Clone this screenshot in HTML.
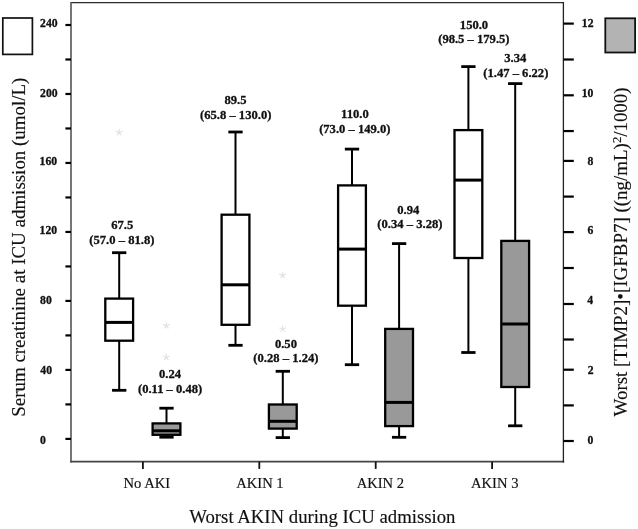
<!DOCTYPE html>
<html><head><meta charset="utf-8"><style>
html,body{margin:0;padding:0;background:#fff;width:638px;height:529px;overflow:hidden;font-family:"Liberation Serif",serif;}
svg{display:block;will-change:transform}
</style></head><body>
<svg width="638" height="529" viewBox="0 0 638 529">
<rect width="100%" height="100%" fill="#fff"/>
<path d="M71 2.6 H563.5" stroke="#2a2a2a" stroke-width="1.3" fill="none"/>
<path d="M71 1.9 V462.5" stroke="#555" stroke-width="1.6" fill="none"/>
<path d="M70.3 461.7 H564.2" stroke="#444" stroke-width="1.7" fill="none"/>
<path d="M563.4 1.9 V462.5" stroke="#222" stroke-width="1.3" fill="none"/>
<line x1="65.4" y1="438.90" x2="71" y2="438.90" stroke="#000" stroke-width="2.2"/>
<line x1="65.4" y1="404.41" x2="71" y2="404.41" stroke="#000" stroke-width="2.2"/>
<line x1="65.4" y1="369.92" x2="71" y2="369.92" stroke="#000" stroke-width="2.2"/>
<line x1="65.4" y1="335.42" x2="71" y2="335.42" stroke="#000" stroke-width="2.2"/>
<line x1="65.4" y1="300.93" x2="71" y2="300.93" stroke="#000" stroke-width="2.2"/>
<line x1="65.4" y1="266.44" x2="71" y2="266.44" stroke="#000" stroke-width="2.2"/>
<line x1="65.4" y1="231.95" x2="71" y2="231.95" stroke="#000" stroke-width="2.2"/>
<line x1="65.4" y1="197.46" x2="71" y2="197.46" stroke="#000" stroke-width="2.2"/>
<line x1="65.4" y1="162.96" x2="71" y2="162.96" stroke="#000" stroke-width="2.2"/>
<line x1="65.4" y1="128.47" x2="71" y2="128.47" stroke="#000" stroke-width="2.2"/>
<line x1="65.4" y1="93.98" x2="71" y2="93.98" stroke="#000" stroke-width="2.2"/>
<line x1="65.4" y1="59.49" x2="71" y2="59.49" stroke="#000" stroke-width="2.2"/>
<line x1="65.4" y1="25.00" x2="71" y2="25.00" stroke="#000" stroke-width="2.2"/>
<text x="40.07" y="27.30" font-family='"Liberation Serif", serif' font-weight="bold" font-size="11.7" fill="#111" stroke="#111" stroke-width="0.3">240</text>
<text x="40.07" y="96.60" font-family='"Liberation Serif", serif' font-weight="bold" font-size="11.7" fill="#111" stroke="#111" stroke-width="0.3">200</text>
<text x="39.57" y="164.70" font-family='"Liberation Serif", serif' font-weight="bold" font-size="11.7" fill="#111" stroke="#111" stroke-width="0.3">160</text>
<text x="39.57" y="234.40" font-family='"Liberation Serif", serif' font-weight="bold" font-size="11.7" fill="#111" stroke="#111" stroke-width="0.3">120</text>
<text x="40.07" y="303.70" font-family='"Liberation Serif", serif' font-weight="bold" font-size="11.7" fill="#111" stroke="#111" stroke-width="0.3">80</text>
<text x="40.32" y="374.30" font-family='"Liberation Serif", serif' font-weight="bold" font-size="11.7" fill="#111" stroke="#111" stroke-width="0.3">40</text>
<text x="40.07" y="443.70" font-family='"Liberation Serif", serif' font-weight="bold" font-size="11.7" fill="#111" stroke="#111" stroke-width="0.3">0</text>
<line x1="563.5" y1="23.60" x2="573.8" y2="23.60" stroke="#000" stroke-width="2.2"/>
<line x1="563.5" y1="59.50" x2="573.8" y2="59.50" stroke="#000" stroke-width="2.2"/>
<line x1="563.5" y1="95.30" x2="573.8" y2="95.30" stroke="#000" stroke-width="2.2"/>
<line x1="563.5" y1="131.05" x2="573.8" y2="131.05" stroke="#000" stroke-width="2.2"/>
<line x1="563.5" y1="160.90" x2="573.8" y2="160.90" stroke="#000" stroke-width="2.2"/>
<line x1="563.5" y1="196.60" x2="573.8" y2="196.60" stroke="#000" stroke-width="2.2"/>
<line x1="563.5" y1="232.10" x2="573.8" y2="232.10" stroke="#000" stroke-width="2.2"/>
<line x1="563.5" y1="268.00" x2="573.8" y2="268.00" stroke="#000" stroke-width="2.2"/>
<line x1="563.5" y1="304.00" x2="573.8" y2="304.00" stroke="#000" stroke-width="2.2"/>
<line x1="563.5" y1="339.50" x2="573.8" y2="339.50" stroke="#000" stroke-width="2.2"/>
<line x1="563.5" y1="369.70" x2="573.8" y2="369.70" stroke="#000" stroke-width="2.2"/>
<line x1="563.5" y1="405.40" x2="573.8" y2="405.40" stroke="#000" stroke-width="2.2"/>
<line x1="563.5" y1="441.00" x2="573.8" y2="441.00" stroke="#000" stroke-width="2.2"/>
<text x="581.82" y="27.40" font-family='"Liberation Serif", serif' font-weight="bold" font-size="11.7" fill="#111" stroke="#111" stroke-width="0.3">12</text>
<text x="581.70" y="96.70" font-family='"Liberation Serif", serif' font-weight="bold" font-size="11.7" fill="#111" stroke="#111" stroke-width="0.3">10</text>
<text x="587.57" y="164.90" font-family='"Liberation Serif", serif' font-weight="bold" font-size="11.7" fill="#111" stroke="#111" stroke-width="0.3">8</text>
<text x="587.45" y="234.20" font-family='"Liberation Serif", serif' font-weight="bold" font-size="11.7" fill="#111" stroke="#111" stroke-width="0.3">6</text>
<text x="587.32" y="303.90" font-family='"Liberation Serif", serif' font-weight="bold" font-size="11.7" fill="#111" stroke="#111" stroke-width="0.3">4</text>
<text x="587.70" y="374.30" font-family='"Liberation Serif", serif' font-weight="bold" font-size="11.7" fill="#111" stroke="#111" stroke-width="0.3">2</text>
<text x="587.57" y="443.80" font-family='"Liberation Serif", serif' font-weight="bold" font-size="11.7" fill="#111" stroke="#111" stroke-width="0.3">0</text>
<line x1="142.90" y1="461.7" x2="142.90" y2="468.9" stroke="#111" stroke-width="1.8"/>
<line x1="259.30" y1="461.7" x2="259.30" y2="468.9" stroke="#111" stroke-width="1.8"/>
<line x1="375.70" y1="461.7" x2="375.70" y2="468.9" stroke="#111" stroke-width="1.8"/>
<line x1="492.10" y1="461.7" x2="492.10" y2="468.9" stroke="#111" stroke-width="1.8"/>
<text x="123.57" y="487.95" font-family='"Liberation Serif", serif' font-weight="normal" font-size="14.6" fill="#111" stroke="#111" stroke-width="0.15">No AKI</text>
<text x="236.22" y="487.95" font-family='"Liberation Serif", serif' font-weight="normal" font-size="14.6" fill="#111" stroke="#111" stroke-width="0.15">AKIN 1</text>
<text x="356.65" y="487.95" font-family='"Liberation Serif", serif' font-weight="normal" font-size="14.6" fill="#111" stroke="#111" stroke-width="0.15">AKIN 2</text>
<text x="471.03" y="487.95" font-family='"Liberation Serif", serif' font-weight="normal" font-size="14.6" fill="#111" stroke="#111" stroke-width="0.15">AKIN 3</text>
<text x="189.30" y="523.10" font-family='"Liberation Serif", serif' font-weight="normal" font-size="18.75" fill="#111" stroke="#111" stroke-width="0.15">Worst AKIN during ICU admission</text>
<text x="0" y="0" transform="translate(25.1,416.80) rotate(-90)" font-family='"Liberation Serif", serif' font-size="18.95" fill="#111" stroke="#111" stroke-width="0.15">Serum creatinine at ICU admission (umol/L)</text>
<text x="0" y="0" transform="translate(626.5,416.45) rotate(-90)" font-family='"Liberation Serif", serif' font-size="18.95" fill="#111" stroke="#111" stroke-width="0.15">Worst [TIMP2]•[IGFBP7] ((ng/mL)<tspan dy="-5.2" font-size="12.5">2</tspan><tspan dy="5.2">/1000)</tspan></text>
<rect x="2.8" y="18" width="29.6" height="36.4" fill="#fff" stroke="#111" stroke-width="1.7"/>
<rect x="605.3" y="18.3" width="29.8" height="34.2" fill="#b3b3b3" stroke="#111" stroke-width="1.8"/>
<line x1="119.2" y1="252.7" x2="119.2" y2="298.6" stroke="#000" stroke-width="2"/>
<line x1="119.2" y1="340.7" x2="119.2" y2="390.3" stroke="#000" stroke-width="2"/>
<line x1="112.05" y1="252.7" x2="126.35" y2="252.7" stroke="#000" stroke-width="2.8"/>
<line x1="112.05" y1="390.3" x2="126.35" y2="390.3" stroke="#000" stroke-width="2.8"/>
<rect x="105.30" y="298.6" width="27.8" height="42.10" fill="#fff" stroke="#000" stroke-width="2.3"/>
<line x1="105.30" y1="322.4" x2="133.10" y2="322.4" stroke="#000" stroke-width="3"/>
<line x1="235.5" y1="132.0" x2="235.5" y2="214.7" stroke="#000" stroke-width="2"/>
<line x1="235.5" y1="324.8" x2="235.5" y2="345.3" stroke="#000" stroke-width="2"/>
<line x1="228.35" y1="132.0" x2="242.65" y2="132.0" stroke="#000" stroke-width="2.8"/>
<line x1="228.35" y1="345.3" x2="242.65" y2="345.3" stroke="#000" stroke-width="2.8"/>
<rect x="221.60" y="214.7" width="27.8" height="110.10" fill="#fff" stroke="#000" stroke-width="2.3"/>
<line x1="221.60" y1="284.8" x2="249.40" y2="284.8" stroke="#000" stroke-width="3"/>
<line x1="352.0" y1="149.1" x2="352.0" y2="185.4" stroke="#000" stroke-width="2"/>
<line x1="352.0" y1="305.7" x2="352.0" y2="364.7" stroke="#000" stroke-width="2"/>
<line x1="344.85" y1="149.1" x2="359.15" y2="149.1" stroke="#000" stroke-width="2.8"/>
<line x1="344.85" y1="364.7" x2="359.15" y2="364.7" stroke="#000" stroke-width="2.8"/>
<rect x="338.10" y="185.4" width="27.8" height="120.30" fill="#fff" stroke="#000" stroke-width="2.3"/>
<line x1="338.10" y1="249.1" x2="365.90" y2="249.1" stroke="#000" stroke-width="3"/>
<line x1="468.4" y1="66.6" x2="468.4" y2="130.1" stroke="#000" stroke-width="2"/>
<line x1="468.4" y1="258.0" x2="468.4" y2="352.5" stroke="#000" stroke-width="2"/>
<line x1="461.25" y1="66.6" x2="475.55" y2="66.6" stroke="#000" stroke-width="2.8"/>
<line x1="461.25" y1="352.5" x2="475.55" y2="352.5" stroke="#000" stroke-width="2.8"/>
<rect x="454.50" y="130.1" width="27.8" height="127.90" fill="#fff" stroke="#000" stroke-width="2.3"/>
<line x1="454.50" y1="180.1" x2="482.30" y2="180.1" stroke="#000" stroke-width="3"/>
<line x1="166.5" y1="408.2" x2="166.5" y2="423.4" stroke="#000" stroke-width="2"/>
<line x1="166.5" y1="434.8" x2="166.5" y2="437.2" stroke="#000" stroke-width="2"/>
<line x1="159.35" y1="408.2" x2="173.65" y2="408.2" stroke="#000" stroke-width="2.8"/>
<line x1="159.35" y1="437.2" x2="173.65" y2="437.2" stroke="#000" stroke-width="2.8"/>
<rect x="152.60" y="423.4" width="27.8" height="11.40" fill="#999" stroke="#000" stroke-width="2.3"/>
<line x1="152.60" y1="430.8" x2="180.40" y2="430.8" stroke="#000" stroke-width="3"/>
<line x1="282.8" y1="371.3" x2="282.8" y2="404.5" stroke="#000" stroke-width="2"/>
<line x1="282.8" y1="428.6" x2="282.8" y2="437.6" stroke="#000" stroke-width="2"/>
<line x1="275.65" y1="371.3" x2="289.95" y2="371.3" stroke="#000" stroke-width="2.8"/>
<line x1="275.65" y1="437.6" x2="289.95" y2="437.6" stroke="#000" stroke-width="2.8"/>
<rect x="268.90" y="404.5" width="27.8" height="24.10" fill="#999" stroke="#000" stroke-width="2.3"/>
<line x1="268.90" y1="421.3" x2="296.70" y2="421.3" stroke="#000" stroke-width="3"/>
<line x1="399.1" y1="243.6" x2="399.1" y2="328.9" stroke="#000" stroke-width="2"/>
<line x1="399.1" y1="426.1" x2="399.1" y2="437.3" stroke="#000" stroke-width="2"/>
<line x1="391.95" y1="243.6" x2="406.25" y2="243.6" stroke="#000" stroke-width="2.8"/>
<line x1="391.95" y1="437.3" x2="406.25" y2="437.3" stroke="#000" stroke-width="2.8"/>
<rect x="385.20" y="328.9" width="27.8" height="97.20" fill="#999" stroke="#000" stroke-width="2.3"/>
<line x1="385.20" y1="402.4" x2="413.00" y2="402.4" stroke="#000" stroke-width="3"/>
<line x1="515.2" y1="83.6" x2="515.2" y2="240.9" stroke="#000" stroke-width="2"/>
<line x1="515.2" y1="387.0" x2="515.2" y2="425.8" stroke="#000" stroke-width="2"/>
<line x1="508.05" y1="83.6" x2="522.35" y2="83.6" stroke="#000" stroke-width="2.8"/>
<line x1="508.05" y1="425.8" x2="522.35" y2="425.8" stroke="#000" stroke-width="2.8"/>
<rect x="501.30" y="240.9" width="27.8" height="146.10" fill="#999" stroke="#000" stroke-width="2.3"/>
<line x1="501.30" y1="324.0" x2="529.10" y2="324.0" stroke="#000" stroke-width="3"/>
<path d="M119.20 132.40 L119.20 129.30 M119.20 132.40 L122.15 131.44 M119.20 132.40 L121.02 134.91 M119.20 132.40 L117.38 134.91 M119.20 132.40 L116.25 131.44 " stroke="#e2e2e2" stroke-width="1.15" stroke-linecap="round" fill="none"/>
<path d="M166.35 325.60 L166.35 322.50 M166.35 325.60 L169.30 324.64 M166.35 325.60 L168.17 328.11 M166.35 325.60 L164.53 328.11 M166.35 325.60 L163.40 324.64 " stroke="#e2e2e2" stroke-width="1.15" stroke-linecap="round" fill="none"/>
<path d="M166.35 357.20 L166.35 354.10 M166.35 357.20 L169.30 356.24 M166.35 357.20 L168.17 359.71 M166.35 357.20 L164.53 359.71 M166.35 357.20 L163.40 356.24 " stroke="#e2e2e2" stroke-width="1.15" stroke-linecap="round" fill="none"/>
<path d="M282.60 275.10 L282.60 272.00 M282.60 275.10 L285.55 274.14 M282.60 275.10 L284.42 277.61 M282.60 275.10 L280.78 277.61 M282.60 275.10 L279.65 274.14 " stroke="#e2e2e2" stroke-width="1.15" stroke-linecap="round" fill="none"/>
<path d="M282.60 329.00 L282.60 325.90 M282.60 329.00 L285.55 328.04 M282.60 329.00 L284.42 331.51 M282.60 329.00 L280.78 331.51 M282.60 329.00 L279.65 328.04 " stroke="#e2e2e2" stroke-width="1.15" stroke-linecap="round" fill="none"/>
<text x="111.19" y="228.80" font-family='"Liberation Serif", serif' font-weight="bold" font-size="12.6" fill="#111" stroke="#111" stroke-width="0.3">67.5</text>
<text x="89.32" y="243.60" font-family='"Liberation Serif", serif' font-weight="bold" font-size="12.6" fill="#111" stroke="#111" stroke-width="0.3">(57.0 – 81.8)</text>
<text x="159.00" y="377.90" font-family='"Liberation Serif", serif' font-weight="bold" font-size="12.6" fill="#111" stroke="#111" stroke-width="0.3">0.24</text>
<text x="137.94" y="392.80" font-family='"Liberation Serif", serif' font-weight="bold" font-size="12.6" fill="#111" stroke="#111" stroke-width="0.3">(0.11 – 0.48)</text>
<text x="224.49" y="103.80" font-family='"Liberation Serif", serif' font-weight="bold" font-size="12.6" fill="#111" stroke="#111" stroke-width="0.3">89.5</text>
<text x="200.04" y="118.70" font-family='"Liberation Serif", serif' font-weight="bold" font-size="12.6" fill="#111" stroke="#111" stroke-width="0.3">(65.8 – 130.0)</text>
<text x="274.93" y="347.70" font-family='"Liberation Serif", serif' font-weight="bold" font-size="12.6" fill="#111" stroke="#111" stroke-width="0.3">0.50</text>
<text x="253.37" y="362.10" font-family='"Liberation Serif", serif' font-weight="bold" font-size="12.6" fill="#111" stroke="#111" stroke-width="0.3">(0.28 – 1.24)</text>
<text x="341.06" y="117.60" font-family='"Liberation Serif", serif' font-weight="bold" font-size="12.6" fill="#111" stroke="#111" stroke-width="0.3">110.0</text>
<text x="319.14" y="132.90" font-family='"Liberation Serif", serif' font-weight="bold" font-size="12.6" fill="#111" stroke="#111" stroke-width="0.3">(73.0 – 149.0)</text>
<text x="397.20" y="213.80" font-family='"Liberation Serif", serif' font-weight="bold" font-size="12.6" fill="#111" stroke="#111" stroke-width="0.3">0.94</text>
<text x="377.37" y="228.30" font-family='"Liberation Serif", serif' font-weight="bold" font-size="12.6" fill="#111" stroke="#111" stroke-width="0.3">(0.34 – 3.28)</text>
<text x="459.84" y="28.80" font-family='"Liberation Serif", serif' font-weight="bold" font-size="12.6" fill="#111" stroke="#111" stroke-width="0.3">150.0</text>
<text x="438.20" y="43.20" font-family='"Liberation Serif", serif' font-weight="bold" font-size="12.6" fill="#111" stroke="#111" stroke-width="0.3">(98.5 – 179.5)</text>
<text x="504.20" y="61.60" font-family='"Liberation Serif", serif' font-weight="bold" font-size="12.6" fill="#111" stroke="#111" stroke-width="0.3">3.34</text>
<text x="483.27" y="76.80" font-family='"Liberation Serif", serif' font-weight="bold" font-size="12.6" fill="#111" stroke="#111" stroke-width="0.3">(1.47 – 6.22)</text>
</svg>
</body></html>
